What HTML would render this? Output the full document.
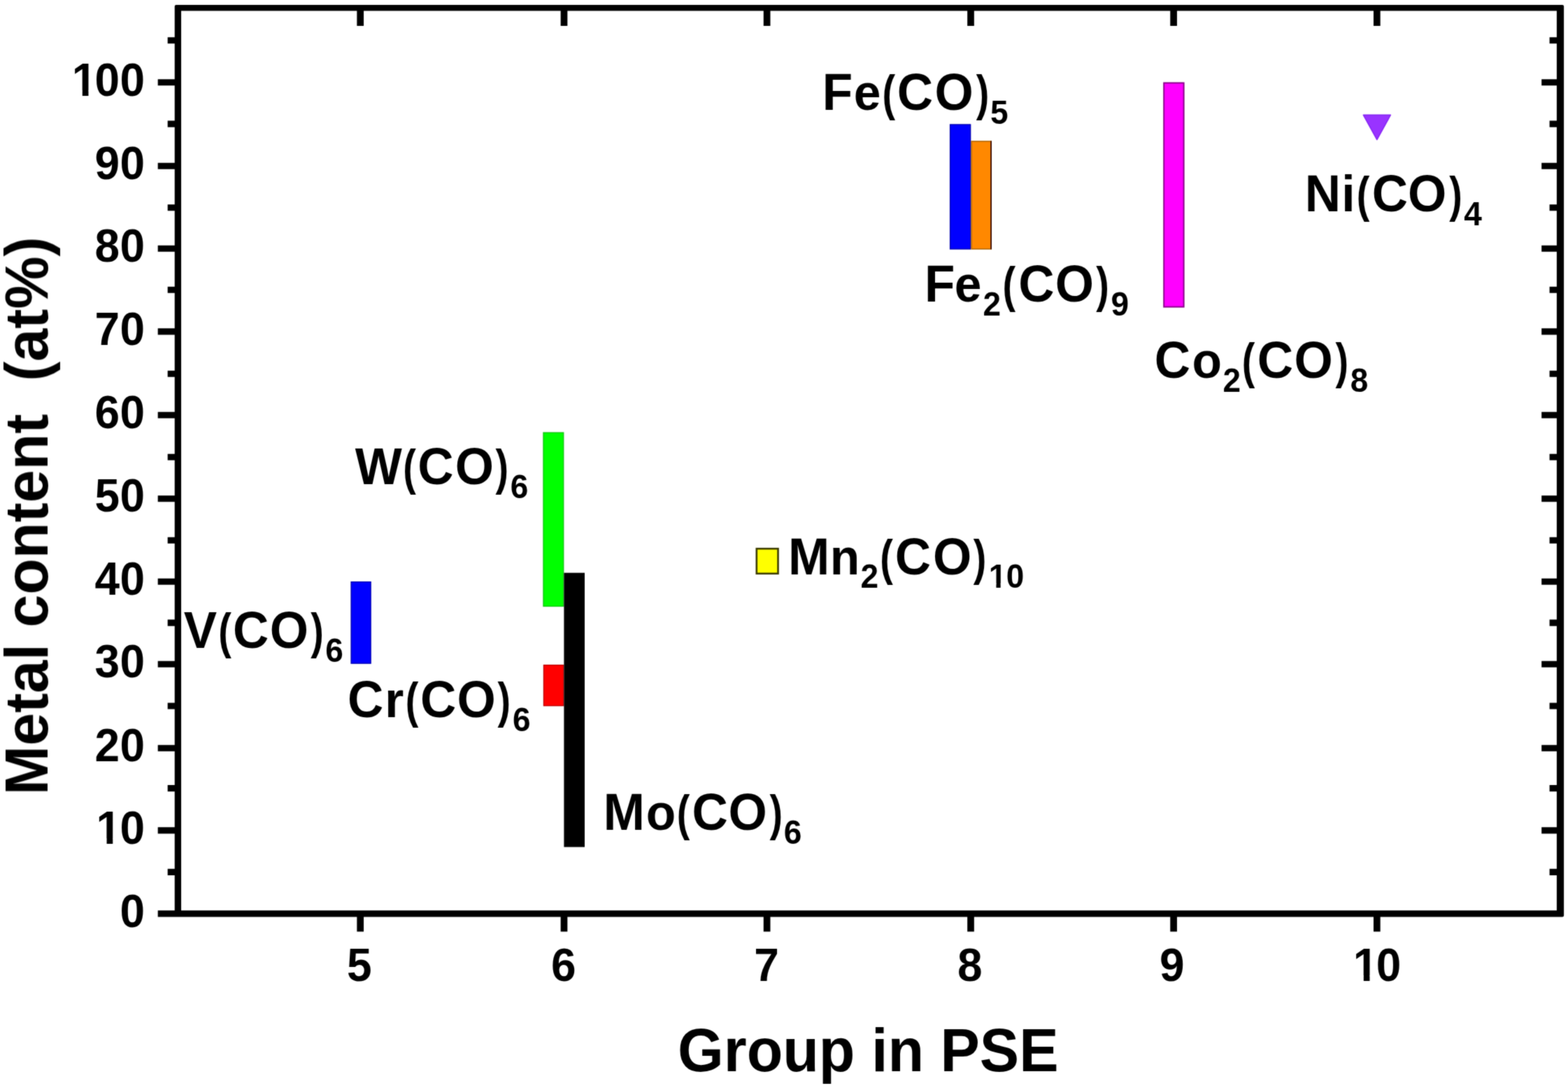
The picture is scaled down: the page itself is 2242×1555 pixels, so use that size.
<!DOCTYPE html>
<html lang="en">
<head>
<meta charset="utf-8">
<title>Metal content vs. group in PSE</title>
<style>
html,body{margin:0;padding:0;background:#fff;}
svg text{font-family:"Liberation Sans",sans-serif;font-weight:700;white-space:pre;}
body{width:2242px;height:1555px;overflow:hidden;}
svg{display:block;}
</style>
</head>
<body>
<svg width="2242" height="1555" viewBox="0 0 2242 1555" font-family="'Liberation Sans', sans-serif" font-weight="bold" fill="#000">
<defs><clipPath id="one1"><path d="M-4000 -4000H4000V-7.53H-4000ZM-4000 -7.53H139.52V4000H-4000ZM173.44 -7.53H4000V4000H173.44ZM152.59 -7.53H161.27V4000H152.59Z"/></clipPath><clipPath id="one2"><path d="M-4000 -4000H4000V-7.53H-4000ZM-4000 -7.53H104.72V4000H-4000ZM138.64 -7.53H4000V4000H138.64ZM117.79 -7.53H126.47V4000H117.79Z"/></clipPath><clipPath id="one3"><path d="M-4000 -4000H4000V-7.53H-4000ZM-4000 -7.53H1936.72V4000H-4000ZM1970.64 -7.53H4000V4000H1970.64ZM1949.79 -7.53H1958.47V4000H1949.79Z"/></clipPath><clipPath id="one4"><path d="M-4000 -4000H4000V12.38H-4000ZM-4000 12.38H1415.03V4000H-4000ZM1439.41 12.38H4000V4000H1439.41ZM1424.44 12.38H1430.65V4000H1424.44Z"/></clipPath><filter id="soft" filterUnits="userSpaceOnUse" x="0" y="0" width="2242" height="1555" color-interpolation-filters="sRGB"><feConvolveMatrix order="3" kernelMatrix="0.0277 0.111 0.0277 0.111 0.4454 0.111 0.0277 0.111 0.0277" edgeMode="none"/></filter></defs>
<rect x="0" y="0" width="2242" height="1555" fill="#fff"/>
<g filter="url(#soft)">
<g id="series">
<rect x="502.1" y="831.7" width="28" height="116.4" fill="#0000ff" stroke="#0000b4" stroke-width="1.4"/>
<rect x="777" y="618.3" width="28.7" height="248.2" fill="#00ff00" stroke="#14c814" stroke-width="1.4"/>
<rect x="777.5" y="950.6" width="28.2" height="58" fill="#ff0000" stroke="#c00000" stroke-width="1.4"/>
<rect x="806.4" y="818.7" width="29.6" height="391.9" fill="#000000"/>
<rect x="1358.6" y="178" width="29" height="177.9" fill="#0000ff" stroke="#0000b4" stroke-width="1.4"/>
<rect x="1389.1" y="202" width="28.1" height="153.8" fill="#ff8800" stroke="#b46400" stroke-width="1.6"/>
<path d="M1417.1 201.6V356.2" stroke="#3a0a00" stroke-width="1.8" fill="none"/>
<rect x="1664.2" y="118.5" width="28.4" height="320.1" fill="#ff00ff" stroke="#8c008c" stroke-width="2.0"/>
<rect x="1081.8" y="784.2" width="30.7" height="35.6" fill="#ffff00" stroke="#3c3c00" stroke-width="2.6"/>
<polygon points="1949.4,164.4 1988.3,164.4 1968.85,199.6" fill="#9933ff" stroke="#8828f4" stroke-width="1.6" stroke-linejoin="round"/>
</g>
<path fill-rule="evenodd" d="M251.95 6.9H2233.9Q2236.1 6.9 2236.1 9.1V1308.2Q2236.1 1310.4 2233.9 1310.4H225.7V1301.2H249.75V9.1Q249.75 6.9 251.95 6.9ZM259.05 15.5V1301.2H2225.9V15.5Z"/>
<path d="M225.7 1186.9H254.4M2231.25 1186.9H2204.2M225.7 1069.2H254.4M2231.25 1069.2H2204.2M225.7 949.2H254.4M2231.25 949.2H2204.2M225.7 831.3H254.4M2231.25 831.3H2204.2M225.7 712.75H254.4M2231.25 712.75H2204.2M225.7 593.3H254.4M2231.25 593.3H2204.2M225.7 473.9H254.4M2231.25 473.9H2204.2M225.7 355.3H254.4M2231.25 355.3H2204.2M225.7 237.2H254.4M2231.25 237.2H2204.2M225.7 117.8H254.4M2231.25 117.8H2204.2M239.7 1246.4H254.4M2231.25 1246.4H2215.6M239.7 1126.6H254.4M2231.25 1126.6H2215.6M239.7 1009H254.4M2231.25 1009H2215.6M239.7 890.1H254.4M2231.25 890.1H2215.6M239.7 772.3H254.4M2231.25 772.3H2215.6M239.7 653.2H254.4M2231.25 653.2H2215.6M239.7 534.3H254.4M2231.25 534.3H2215.6M239.7 414.3H254.4M2231.25 414.3H2215.6M239.7 296.8H254.4M2231.25 296.8H2215.6M239.7 177.1H254.4M2231.25 177.1H2215.6M239.7 57.7H254.4M2231.25 57.7H2215.6" stroke="#000" stroke-width="9.1" fill="none"/>
<path d="M515.2 1305.8V1331.5M515.2 11.3V36.9M806.5 1305.8V1331.5M806.5 11.3V36.9M1096.6 1305.8V1331.5M1096.6 11.3V36.9M1388 1305.8V1331.5M1388 11.3V36.9M1678.1 1305.8V1331.5M1678.1 11.3V36.9M1968.8 1305.8V1331.5M1968.8 11.3V36.9" stroke="#000" stroke-width="9.7" fill="none"/>
<g id="ticklabels" font-size="64">
<text transform="translate(0 1324.7) scale(1 1.04)" x="171.45" y="0">0</text>
<text transform="translate(0 1206.25) scale(1 1.04)" x="137.6 171.45" y="0" clip-path="url(#one1)">10</text>
<text transform="translate(0 1088.1) scale(1 1.04)" x="135.4 171.45" y="0">20</text>
<text transform="translate(0 968.1) scale(1 1.04)" x="135.4 171.45" y="0">30</text>
<text transform="translate(0 850.2) scale(1 1.04)" x="135.4 171.45" y="0">40</text>
<text transform="translate(0 731.4) scale(1 1.04)" x="135.4 171.45" y="0">50</text>
<text transform="translate(0 612.2) scale(1 1.04)" x="135.4 171.45" y="0">60</text>
<text transform="translate(0 492.8) scale(1 1.04)" x="135.4 171.45" y="0">70</text>
<text transform="translate(0 374.2) scale(1 1.04)" x="135.4 171.45" y="0">80</text>
<text transform="translate(0 255.6) scale(1 1.04)" x="135.4 171.45" y="0">90</text>
<text transform="translate(0 137.15) scale(1 1.04)" x="102.8 135.4 171.45" y="0" clip-path="url(#one2)">100</text>
<text transform="translate(0 1402.4) scale(1 1.04)" x="496" y="0">5</text>
<text transform="translate(0 1402.4) scale(1 1.04)" x="787.9" y="0">6</text>
<text transform="translate(0 1402.4) scale(1 1.04)" x="1078.3" y="0">7</text>
<text transform="translate(0 1402.4) scale(1 1.04)" x="1368.9" y="0">8</text>
<text transform="translate(0 1402.4) scale(1 1.04)" x="1658" y="0">9</text>
<text transform="translate(0 1402.2) scale(1 1.04)" x="1934.8 1967.75" y="0" clip-path="url(#one3)">10</text>
</g>
<g id="labels" font-size="71">
<text transform="translate(0 157.1) scale(1 1.04)"><tspan x="1175.74" y="0">F</tspan><tspan font-size="69.5" x="1220.75" y="0">e</tspan><tspan font-size="68" textLength="18.57" lengthAdjust="spacingAndGlyphs" x="1261.4" y="0">(</tspan><tspan x="1282.73 1336.52" y="0">CO</tspan><tspan font-size="68" textLength="18.57" lengthAdjust="spacingAndGlyphs" x="1395.63" y="0">)</tspan><tspan font-size="46" x="1416.09" y="19.23">5</tspan></text>
<text transform="translate(0 430.6) scale(1 1.04)"><tspan x="1322.09" y="0">F</tspan><tspan font-size="69.5" x="1364.7" y="0">e</tspan><tspan font-size="46" x="1405.48" y="19.23">2</tspan><tspan font-size="68" textLength="18.57" lengthAdjust="spacingAndGlyphs" x="1433.5" y="0">(</tspan><tspan x="1456.23 1508.67" y="0">CO</tspan><tspan font-size="68" textLength="18.57" lengthAdjust="spacingAndGlyphs" x="1567.18" y="0">)</tspan><tspan font-size="46" x="1588.46" y="19.23">9</tspan></text>
<text transform="translate(0 539.8) scale(1 1.04)"><tspan x="1650.73" y="0">C</tspan><tspan font-size="69.5" x="1704.52" y="0">o</tspan><tspan font-size="46" x="1748.43" y="19.23">2</tspan><tspan font-size="68" textLength="18.57" lengthAdjust="spacingAndGlyphs" x="1775.8" y="0">(</tspan><tspan x="1797.83 1850.52" y="0">CO</tspan><tspan font-size="68" textLength="18.57" lengthAdjust="spacingAndGlyphs" x="1909.53" y="0">)</tspan><tspan font-size="46" x="1930.79" y="19.23">8</tspan></text>
<text transform="translate(0 301.5) scale(1 1.04)"><tspan x="1865.83" y="0">N</tspan><tspan font-size="69.5" x="1918.33" y="0">i</tspan><tspan font-size="68" textLength="18.57" lengthAdjust="spacingAndGlyphs" x="1939.7" y="0">(</tspan><tspan x="1961.68 2013.12" y="0">CO</tspan><tspan font-size="68" textLength="18.57" lengthAdjust="spacingAndGlyphs" x="2072.23" y="0">)</tspan><tspan font-size="46" x="2093.23" y="19.23">4</tspan></text>
<text transform="translate(0 820.8) scale(1 1.04)" clip-path="url(#one4)"><tspan x="1126.93" y="0">M</tspan><tspan font-size="69.5" x="1186.84" y="0">n</tspan><tspan font-size="46" x="1230.58" y="18.08">2</tspan><tspan font-size="68" textLength="18.57" lengthAdjust="spacingAndGlyphs" x="1258.2" y="0">(</tspan><tspan x="1279.83 1334.12" y="0">CO</tspan><tspan font-size="68" textLength="18.57" lengthAdjust="spacingAndGlyphs" x="1391.68" y="0">)</tspan><tspan font-size="46" x="1413.65 1438.84" y="18.08">10</tspan></text>
<text transform="translate(0 691.6) scale(1 1.04)"><tspan x="507.64" y="0">W</tspan><tspan font-size="68" textLength="18.57" lengthAdjust="spacingAndGlyphs" x="576.35" y="0">(</tspan><tspan x="597.38 650.77" y="0">CO</tspan><tspan font-size="68" textLength="18.57" lengthAdjust="spacingAndGlyphs" x="708.58" y="0">)</tspan><tspan font-size="46" x="729.8" y="19.23">6</tspan></text>
<text transform="translate(0 926.2) scale(1 1.04)"><tspan x="262.77" y="0">V</tspan><tspan font-size="68" textLength="18.57" lengthAdjust="spacingAndGlyphs" x="312.25" y="0">(</tspan><tspan x="332.93 385.67" y="0">CO</tspan><tspan font-size="68" textLength="18.57" lengthAdjust="spacingAndGlyphs" x="444.13" y="0">)</tspan><tspan font-size="46" x="465.35" y="19.23">6</tspan></text>
<text transform="translate(0 1025) scale(1 1.04)"><tspan x="497.03" y="0">C</tspan><tspan font-size="69.5" x="550.31" y="0">r</tspan><tspan font-size="68" textLength="18.57" lengthAdjust="spacingAndGlyphs" x="579.7" y="0">(</tspan><tspan x="601.03 653.42" y="0">CO</tspan><tspan font-size="68" textLength="18.57" lengthAdjust="spacingAndGlyphs" x="711.58" y="0">)</tspan><tspan font-size="46" x="733.1" y="19.23">6</tspan></text>
<text transform="translate(0 1185.7) scale(1 1.04)"><tspan x="862.88" y="0">M</tspan><tspan font-size="69.5" x="923.72" y="0">o</tspan><tspan font-size="68" textLength="18.57" lengthAdjust="spacingAndGlyphs" x="967.8" y="0">(</tspan><tspan x="989.48 1041.52" y="0">CO</tspan><tspan font-size="68" textLength="18.57" lengthAdjust="spacingAndGlyphs" x="1100.43" y="0">)</tspan><tspan font-size="46" x="1120.85" y="19.23">6</tspan></text>
</g>
<text transform="translate(1241.3 1531) scale(1 1.04)" font-size="84.5" text-anchor="middle">Group in PSE</text>
<text transform="translate(68.1 737.3) rotate(-90) scale(1 1.04)" font-size="84.5" text-anchor="middle" xml:space="preserve">Metal content  (at%)</text>
</g>
</svg>
</body>
</html>
